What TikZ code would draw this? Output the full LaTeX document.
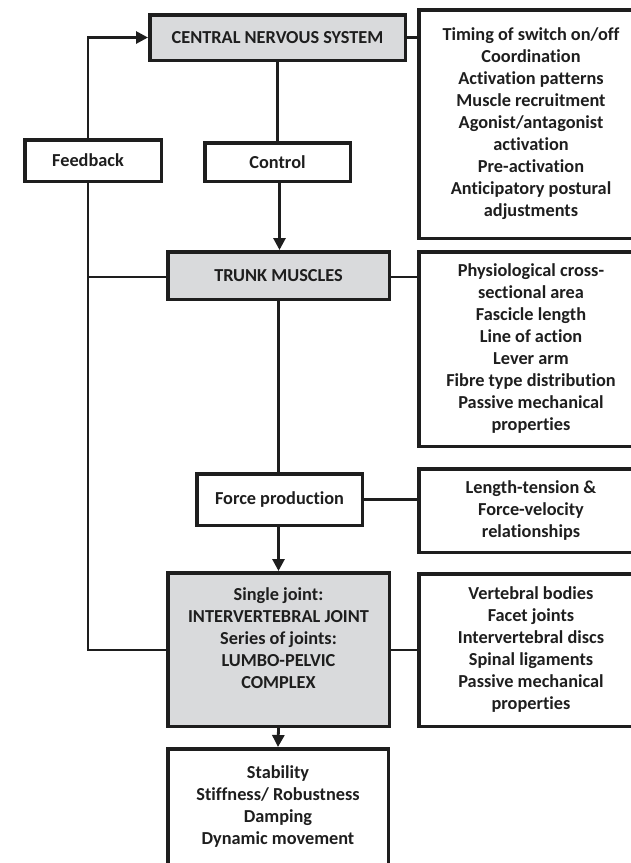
\documentclass[tikz,border=0pt]{standalone}
\usepackage{fontspec}
\setmainfont{Carlito}[Ligatures={NoCommon,NoRequired,NoContextual}]
\usetikzlibrary{arrows.meta}
\definecolor{boxgray}{RGB}{217,218,220}
\definecolor{ink}{RGB}{30,30,30}
\begin{document}
\begin{tikzpicture}[x=1pt,y=-1pt,
  box/.style={draw=ink, line width=3.5pt, rectangle, inner sep=0pt, align=center,
    font=\fontsize{18.3}{22}\selectfont\bfseries, text=ink, fill=white},
  graybox/.style={box, fill=boxgray},
  wire/.style={draw=ink, line width=2.8pt},
  arr/.style={wire, -{Triangle[width=12pt,length=12pt]}}]
\useasboundingbox (0,0) rectangle (630,863);
% main column
\node[graybox, minimum width=255.5pt, minimum height=45.5pt] (cns) at (277.5,37.5) {CENTRAL NERVOUS SYSTEM};
\node[box, minimum width=136.5pt, minimum height=41.5pt] (fb) at (93,160.5) {Feedback\hspace*{10pt}};
\node[box, minimum width=145.5pt, minimum height=38.5pt] (ctrl) at (277.5,162) {Control};
\node[graybox, minimum width=221.5pt, minimum height=47.5pt] (trunk) at (278.5,275.5) {TRUNK MUSCLES};
\node[box, minimum width=165.5pt, minimum height=51.5pt] (force) at (279.5,499.5) {Force production};
\node[graybox, minimum width=221.5pt, minimum height=153.5pt] (lpc) at (278.5,649.5) {Single joint:\\INTERVERTEBRAL JOINT\\Series of joints:\\LUMBO-PELVIC\\COMPLEX\\\mbox{}};
\node[box, minimum width=220.5pt, minimum height=115.5pt] (out) at (278,806.5) {Stability\\Stiffness/ Robustness\\Damping\\Dynamic movement};
% right column
\node[box, minimum width=224.5pt, minimum height=228.5pt] (r1) at (531,124) {Timing of switch on/off\\Coordination\\Activation patterns\\Muscle recruitment\\Agonist/antagonist\\activation\\Pre-activation\\Anticipatory postural\\adjustments};
\node[box, minimum width=224.5pt, minimum height=194.5pt] (r2) at (531,349) {Physiological cross-\\sectional area\\Fascicle length\\Line of action\\Lever arm\\Fibre type distribution\\Passive mechanical\\properties};
\node[box, minimum width=224.5pt, minimum height=83.5pt] (r3) at (531,510.5) {Length-tension \&\\Force-velocity\\relationships};
\node[box, minimum width=224.5pt, minimum height=152.5pt] (r4) at (531,650) {Vertebral bodies\\Facet joints\\Intervertebral discs\\Spinal ligaments\\Passive mechanical\\properties};
% feedback line x
\coordinate (fbx) at (88,0);
% connectors
\draw[wire] (cns.south) -- (ctrl.north);
\draw[arr] ([xshift=2pt]ctrl.south) -- ([xshift=2pt]ctrl.south |- trunk.north);
\draw[wire] (trunk.south) -- (trunk.south |- force.north);
\draw[arr] (force.south -| trunk.south) -- (lpc.north);
\draw[arr] (lpc.south) -- (out.north);
\draw[wire] (cns.east) -- (cns.east -| r1.west);
\draw[wire] ([yshift=-1.5pt]trunk.east) -- ([yshift=-1.5pt]trunk.east -| r2.west);
\draw[wire] (force.east) -- (force.east -| r3.west);
\draw[wire] ([yshift=-0.5pt]lpc.east) -- ([yshift=-0.5pt]lpc.east -| r4.west);
\draw[arr] (fb.north -| fbx) |- (cns.west);
\draw[wire] (fb.south -| fbx) |- ([yshift=-0.5pt]lpc.west);
\draw[wire] ([yshift=-1.5pt]trunk.west) -- ([yshift=-1.5pt]trunk.west -| fbx);
\end{tikzpicture}
\end{document}
